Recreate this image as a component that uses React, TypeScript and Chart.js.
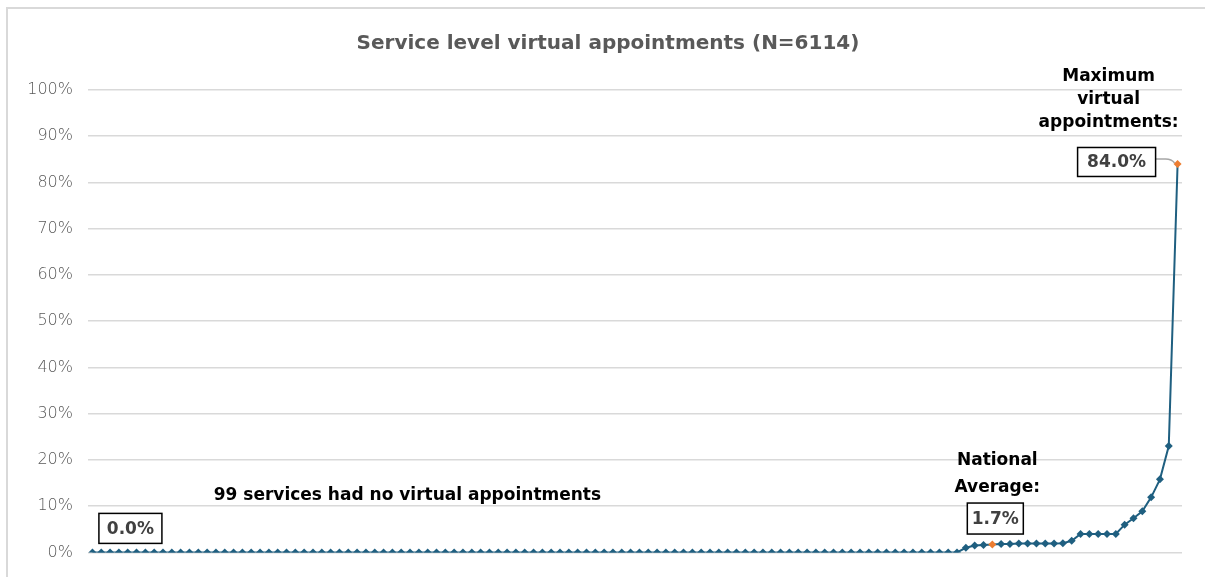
import React, { useEffect, useRef } from "react";
import { Chart, registerables } from "chart.js";

Chart.register(...registerables);

const TITLE = "Service level virtual appointments (N=6114)";
const NONE_TEXT = "99 services had no virtual appointments";
const AVG_LINES = ["National", "Average:"];
const MAX_LINES = ["Maximum", "virtual", "appointments:"];

// 99 services with 0% virtual appointments
const zeroServices = [
  0, 0, 0, 0, 0, 0, 0, 0, 0, 0,
  0, 0, 0, 0, 0, 0, 0, 0, 0, 0,
  0, 0, 0, 0, 0, 0, 0, 0, 0, 0,
  0, 0, 0, 0, 0, 0, 0, 0, 0, 0,
  0, 0, 0, 0, 0, 0, 0, 0, 0, 0,
  0, 0, 0, 0, 0, 0, 0, 0, 0, 0,
  0, 0, 0, 0, 0, 0, 0, 0, 0, 0,
  0, 0, 0, 0, 0, 0, 0, 0, 0, 0,
  0, 0, 0, 0, 0, 0, 0, 0, 0, 0,
  0, 0, 0, 0, 0, 0, 0, 0, 0,
];

// services with some virtual appointments (%)
const nonZeroServices = [
  1.0, 1.5, 1.6, 1.7, 1.8, 1.8, 1.9, 1.9, 1.9, 1.9, 1.9, 2.0, 2.5,
  4.0, 4.0, 4.0, 4.0, 4.0, 6.0, 7.4, 8.9, 11.9, 15.8, 23.0, 84.0,
];

const values = [...zeroServices, ...nonZeroServices];
const serviceLabels = values.map((_, i) => `Service ${i + 1}`);

const yTickValues = [0, 10, 20, 30, 40, 50, 60, 70, 80, 90, 100];
const nationalAverageIndex = 102; // point with 1.7%
const maximumIndex = values.length - 1; // point with 84.0%
const highlightIndices = [nationalAverageIndex, maximumIndex];

const LINE_COLOR = "#1F5F80";
const HIGHLIGHT_COLOR = "#ED7D31";
const FONT = "'DejaVu Sans', 'Open Sans', sans-serif";

const pointColors = values.map((_, i) =>
  highlightIndices.includes(i) ? HIGHLIGHT_COLOR : LINE_COLOR
);

function drawBox(ctx: CanvasRenderingContext2D, cx: number, cy: number, w: number, h: number, text: string) {
  ctx.save();
  ctx.fillStyle = "#ffffff";
  ctx.fillRect(cx - w / 2, cy - h / 2, w, h);
  ctx.strokeStyle = "#000000";
  ctx.lineWidth = 1.5;
  ctx.strokeRect(cx - w / 2, cy - h / 2, w, h);
  ctx.fillStyle = "#404040";
  ctx.font = `bold 17px ${FONT}`;
  ctx.textAlign = "center";
  ctx.textBaseline = "middle";
  ctx.fillText(text, cx, cy + 1);
  ctx.restore();
}

function drawLines(ctx: CanvasRenderingContext2D, cx: number, cy: number, lines: string[], lh: number) {
  ctx.save();
  ctx.fillStyle = "#000000";
  ctx.font = `bold 17px ${FONT}`;
  ctx.textAlign = "center";
  ctx.textBaseline = "middle";
  lines.forEach((l, i) => ctx.fillText(l, cx, cy + i * lh));
  ctx.restore();
}

const annotationPlugin = {
  id: "annotations",
  afterDatasetsDraw(chart: any) {
    const ctx: CanvasRenderingContext2D = chart.ctx;
    const meta = chart.getDatasetMeta(0);
    const first = meta.data[0];
    const avg = meta.data[nationalAverageIndex];
    const max = meta.data[maximumIndex];

    // title
    ctx.save();
    ctx.fillStyle = "#595959";
    ctx.font = `bold 20px ${FONT}`;
    ctx.textAlign = "center";
    ctx.textBaseline = "middle";
    ctx.fillText(TITLE, 600, 35);
    ctx.restore();

    // zero services
    drawLines(ctx, first.x + 315, first.y - 57, [NONE_TEXT], 0);
    drawBox(ctx, first.x + 38, first.y - 24, 63, 30, `${values[0].toFixed(1)}%`);

    // national average
    drawLines(ctx, avg.x + 5, avg.y - 84, AVG_LINES, 27);
    drawBox(ctx, avg.x + 3, avg.y - 26, 56, 31, `${values[nationalAverageIndex].toFixed(1)}%`);

    // maximum
    ctx.save();
    ctx.strokeStyle = "#a6a6a6";
    ctx.lineWidth = 1.5;
    ctx.beginPath();
    ctx.moveTo(max.x - 22, max.y - 5);
    ctx.lineTo(max.x - 12, max.y - 5);
    ctx.quadraticCurveTo(max.x - 6, max.y - 5, max.x - 3, max.y - 1);
    ctx.stroke();
    ctx.restore();
    drawLines(ctx, max.x - 69, max.y - 87, MAX_LINES, 23);
    drawBox(ctx, max.x - 61, max.y - 2, 78, 29, `${values[maximumIndex].toFixed(1)}%`);
  },
};

export default function App() {
  const canvasRef = useRef<HTMLCanvasElement | null>(null);

  useEffect(() => {
    document.body.style.overflow = "hidden";
    const canvas = canvasRef.current;
    if (!canvas) return;
    const chart = new Chart(canvas, {
      type: "line",
      data: {
        labels: serviceLabels,
        datasets: [
          {
            data: values,
            borderColor: LINE_COLOR,
            borderWidth: 2,
            tension: 0,
            pointStyle: "rectRot",
            pointRadius: 4,
            pointBorderWidth: 0,
            pointBackgroundColor: pointColors,
            pointBorderColor: pointColors,
          },
        ],
      },
      options: {
        responsive: false,
        animation: false,
        layout: { padding: { top: 81, bottom: 24, left: 0, right: 23 } },
        plugins: {
          legend: { display: false },
          title: { display: false },
          tooltip: { enabled: false },
        },
        scales: {
          x: {
            type: "category",
            offset: true,
            display: false,
            grid: { display: false },
          },
          y: {
            min: 0,
            max: 100,
            afterBuildTicks: (scale: any) => {
              scale.ticks = yTickValues.map((v) => ({ value: v }));
            },
            afterFit: (scale: any) => {
              scale.width = 80;
            },
            ticks: {
              padding: 15,
              color: "#595959",
              font: { family: FONT, size: 16, weight: "200" as any },
              callback: (v: any) => `${v}%`,
            },
            grid: { color: "#d9d9d9", lineWidth: 1.5, drawTicks: false },
            border: { display: false },
          },
        },
      },
      plugins: [annotationPlugin],
    });
    return () => chart.destroy();
  }, []);

  return (
    <div
      style={{
        position: "fixed",
        left: 6,
        top: 7,
        width: 1260,
        height: 600,
        border: "2px solid #d9d9d9",
        background: "#ffffff",
      }}
    >
      <canvas ref={canvasRef} width={1197} height={568} style={{ display: "block" }} />
    </div>
  );
}
